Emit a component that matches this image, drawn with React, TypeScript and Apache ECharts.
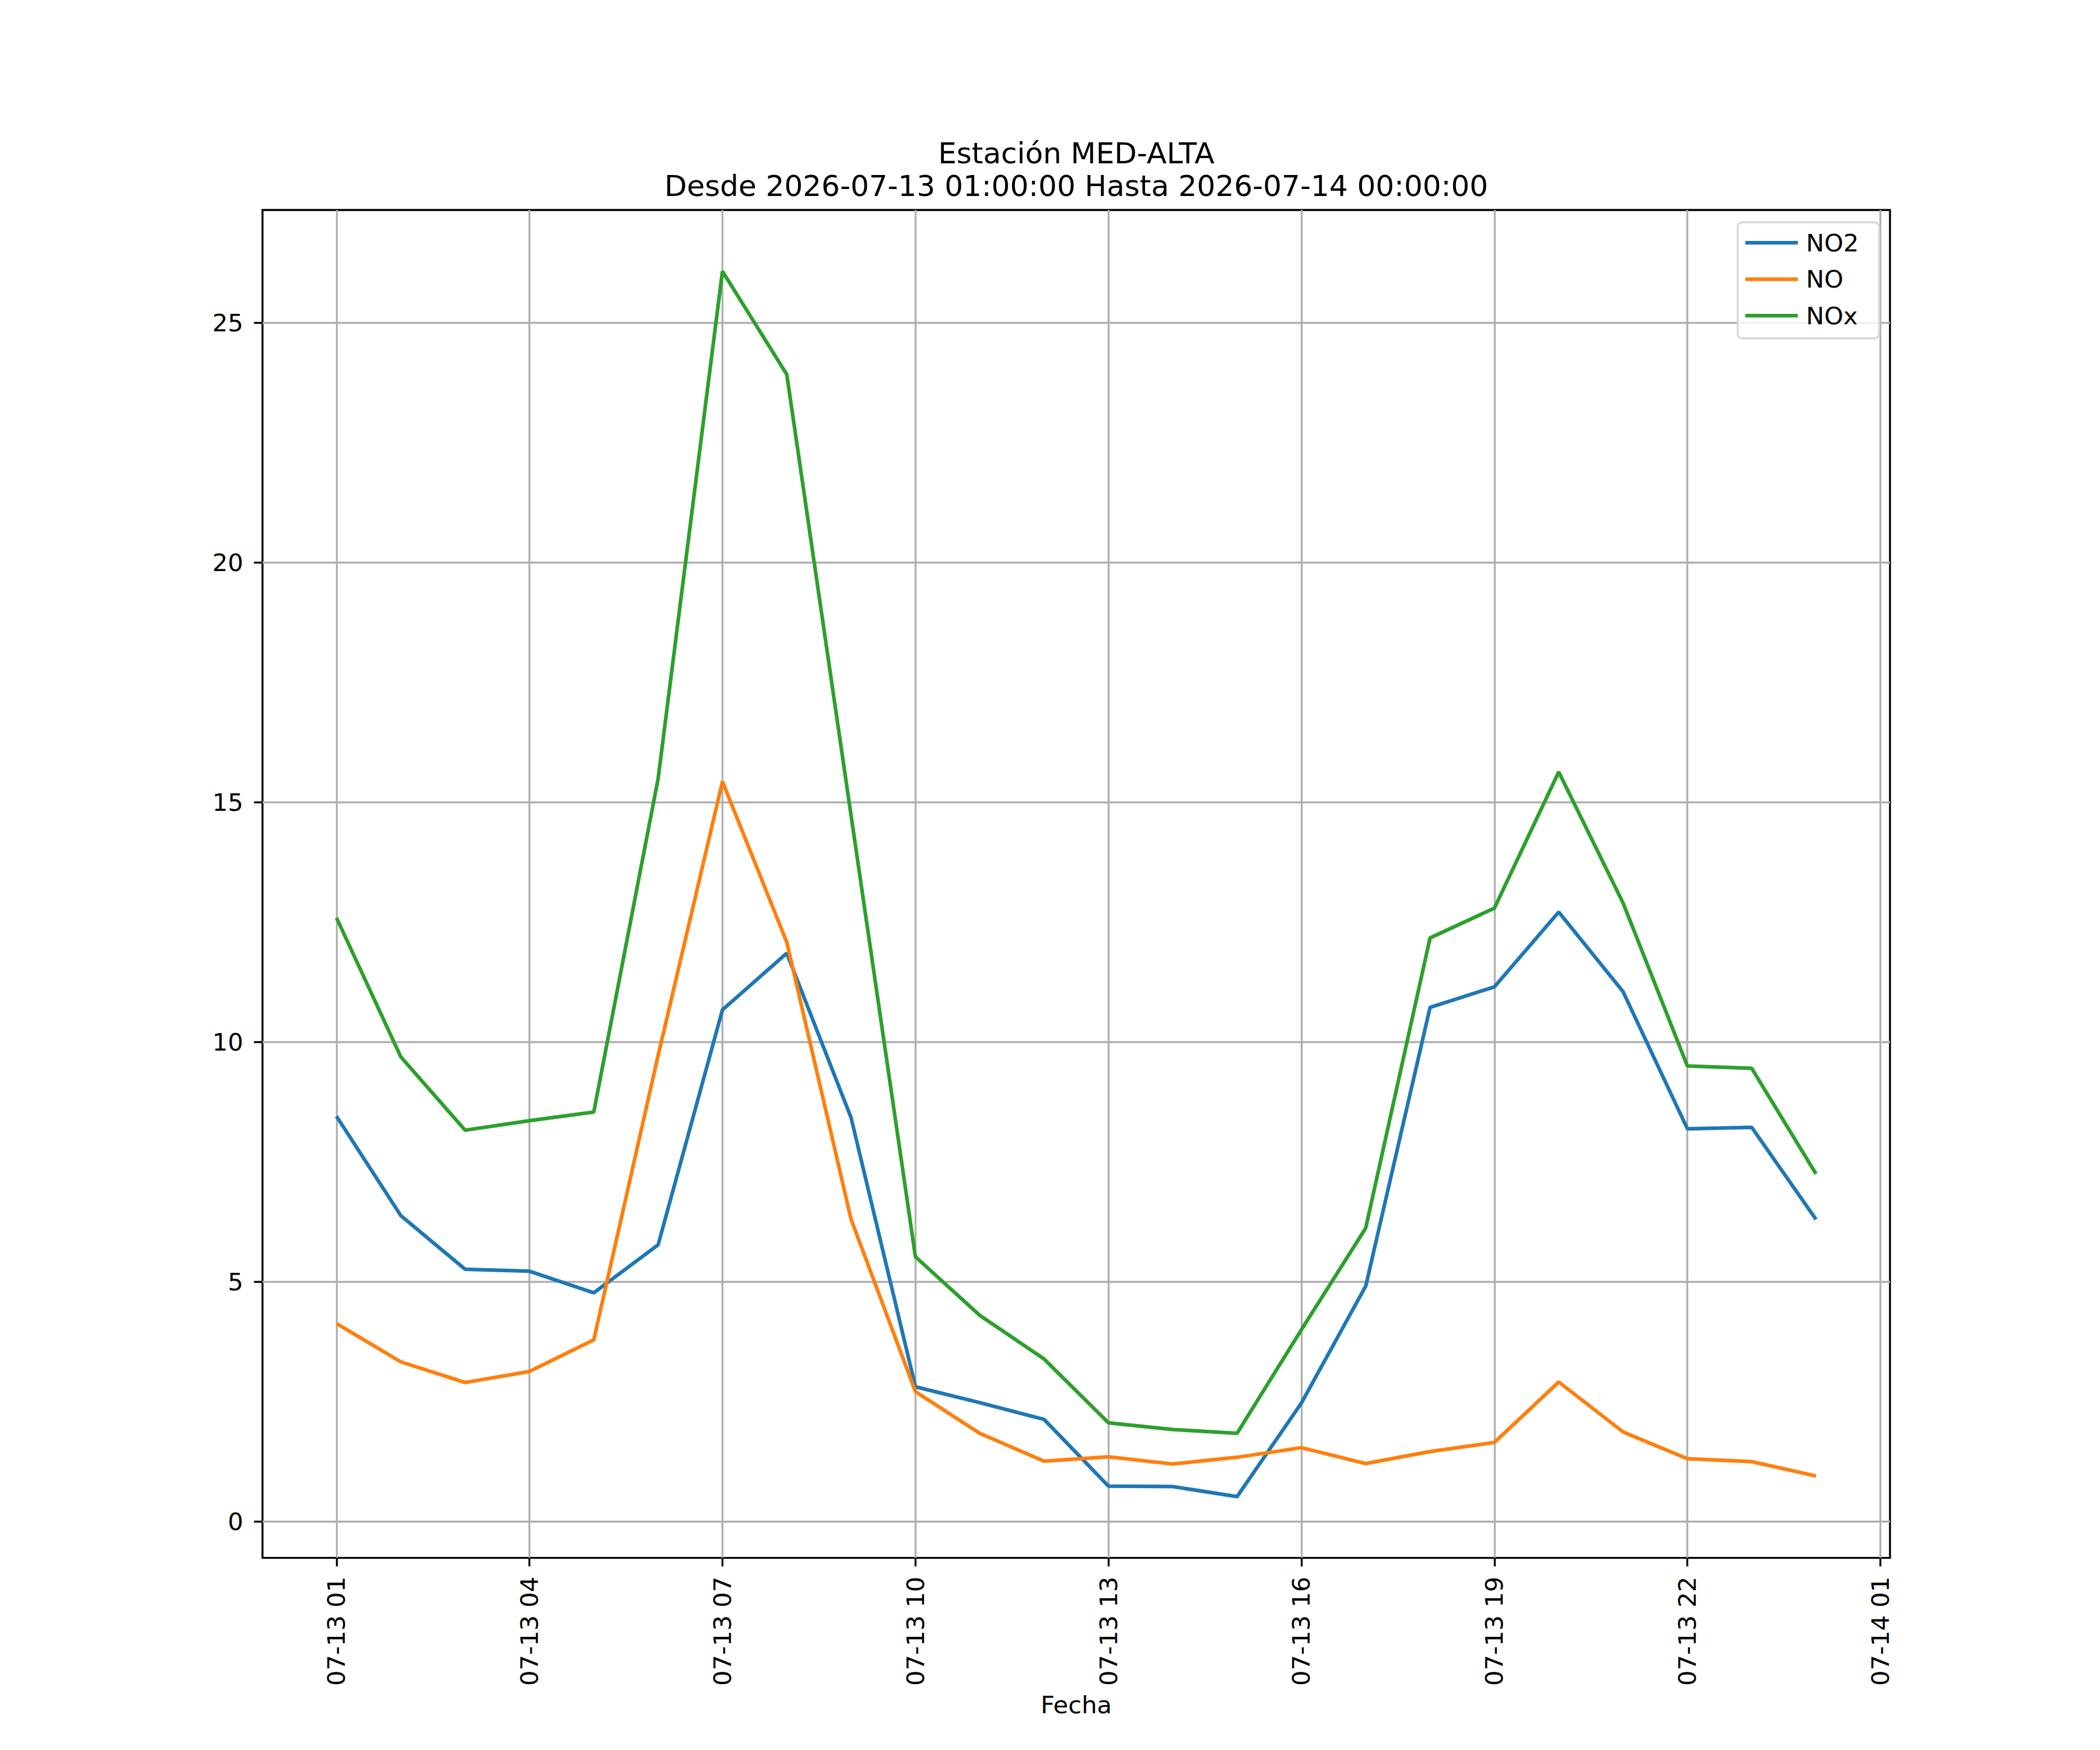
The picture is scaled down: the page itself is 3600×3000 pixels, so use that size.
import React, { useEffect, useRef } from "react";
import * as echarts from "echarts";

// Hours since 2026-07-13 00:00 (1 = 07-13 01:00, 24 = 07-14 00:00)
const hours = [1, 2, 3, 4, 5, 6, 7, 8, 9, 10, 11, 12, 13, 14, 15, 16, 17, 18, 19, 20, 21, 22, 23, 24];
const no2 = [8.45, 6.38, 5.26, 5.22, 4.77, 5.77, 10.67, 11.85, 8.42, 2.81, 2.48, 2.13, 0.74, 0.73, 0.52, 2.47, 4.91, 10.72, 11.15, 12.71, 11.05, 8.19, 8.22, 6.3];
const no = [4.13, 3.33, 2.9, 3.13, 3.79, 9.72, 15.43, 12.08, 6.3, 2.71, 1.84, 1.26, 1.35, 1.2, 1.34, 1.54, 1.21, 1.46, 1.65, 2.91, 1.87, 1.31, 1.25, 0.95];
const nox = [12.59, 9.69, 8.16, 8.36, 8.54, 15.49, 26.07, 23.92, 14.72, 5.52, 4.3, 3.39, 2.06, 1.92, 1.84, 4.0, 6.12, 12.17, 12.79, 15.63, 12.9, 9.5, 9.45, 7.25];

const seriesNames = ["NO2", "NO", "NOx"];
const seriesColors = ["#1f77b4", "#ff7f0e", "#2ca02c"];
const xTicks = [1, 4, 7, 10, 13, 16, 19, 22, 25];
const yTicks = [0, 5, 10, 15, 20, 25];
const titleLines = ["Estación MED-ALTA", "Desde 2026-07-13 01:00:00 Hasta 2026-07-14 00:00:00"];
const xAxisName = "Fecha";

const FONT = "DejaVu Sans";
const PT = 300 / 72;

const pad2 = (n: number) => (n < 10 ? "0" + n : String(n));
const hourLabel = (v: number) => (v < 24 ? "07-13 " + pad2(v) : "07-14 " + pad2(v - 24));

export default function App() {
  const ref = useRef<HTMLDivElement>(null);

  useEffect(() => {
    document.body.style.margin = "0";
    if (!ref.current) return;
    const chart = echarts.init(ref.current, undefined, { renderer: "svg" });

    const values = [no2, no, nox];
    const series = seriesNames.map((name, i) => ({
      name,
      type: "line",
      data: hours.map((h, j) => [h, values[i][j]]),
      symbol: "none",
      showSymbol: false,
      lineStyle: { color: seriesColors[i], width: 1.5 * PT },
      itemStyle: { color: seriesColors[i] },
      emphasis: { disabled: true },
      z: 3,
    }));

    const tickLabelSize = 10 * PT;

    chart.setOption({
      animation: false,
      backgroundColor: "#ffffff",
      textStyle: { fontFamily: FONT },
      grid: {
        left: 450,
        top: 360,
        right: 360,
        bottom: 329.33,
        show: true,
        borderColor: "#000000",
        borderWidth: 0.8 * PT,
        backgroundColor: "transparent",
        containLabel: false,
        outerBoundsMode: "none",
      },
      graphic: [
        {
          type: "text",
          x: 1845,
          y: 291,
          style: {
            text: titleLines.join("\n"),
            textAlign: "center",
            textVerticalAlign: "middle",
            fontSize: 12 * PT,
            lineHeight: 56,
            fontFamily: FONT,
            fill: "#000000",
          },
        },
        {
          type: "text",
          x: 1845,
          y: 2922,
          style: {
            text: xAxisName,
            textAlign: "center",
            textVerticalAlign: "middle",
            fontSize: tickLabelSize,
            fontFamily: FONT,
            fill: "#000000",
          },
        },
      ],
      legend: {
        orient: "vertical",
        left: 2979,
        top: 381,
        padding: [10, 35, 14, 13],
        itemGap: 12.5,
        itemWidth: 90,
        itemHeight: 1.5 * PT,
        icon: "rect",
        backgroundColor: "rgba(255,255,255,0.8)",
        borderColor: "#d6d6d6",
        borderWidth: 0.8 * PT,
        borderRadius: 8,
        selectedMode: false,
        data: seriesNames.map((name, i) => ({
          name,
          icon: "rect",
          itemStyle: { color: seriesColors[i], borderWidth: 0 },
        })),
        textStyle: {
          fontFamily: FONT,
          fontSize: tickLabelSize,
          lineHeight: 50,
          color: "#000000",
          padding: [0, 0, 0, 9],
        },
      },
      xAxis: {
        type: "value",
        min: -0.15,
        max: 25.15,
        axisLine: { show: false, onZero: false },
        axisTick: {
          show: true,
          inside: false,
          customValues: xTicks,
          length: 3.5 * PT,
          lineStyle: { color: "#000000", width: 0.8 * PT },
        },
        axisLabel: {
          customValues: xTicks,
          rotate: 90,
          margin: 32,
          fontFamily: FONT,
          fontSize: tickLabelSize,
          color: "#000000",
          formatter: (v: number) => hourLabel(v),
        },
        splitLine: {
          show: true,
          lineStyle: { color: "#b0b0b0", width: 0.8 * PT },
        },
      },
      yAxis: {
        type: "value",
        min: -0.7575,
        max: 27.3475,
        axisLine: { show: false, onZero: false },
        axisTick: {
          show: true,
          inside: false,
          customValues: yTicks,
          length: 3.5 * PT,
          lineStyle: { color: "#000000", width: 0.8 * PT },
        },
        axisLabel: {
          customValues: yTicks,
          margin: 33,
          fontFamily: FONT,
          fontSize: tickLabelSize,
          color: "#000000",
          formatter: (v: number) => String(v),
        },
        splitLine: {
          show: true,
          lineStyle: { color: "#b0b0b0", width: 0.8 * PT },
        },
      },
      series,
    });

    return () => {
      chart.dispose();
    };
  }, []);

  return <div ref={ref} style={{ width: 3600, height: 3000 }} />;
}
